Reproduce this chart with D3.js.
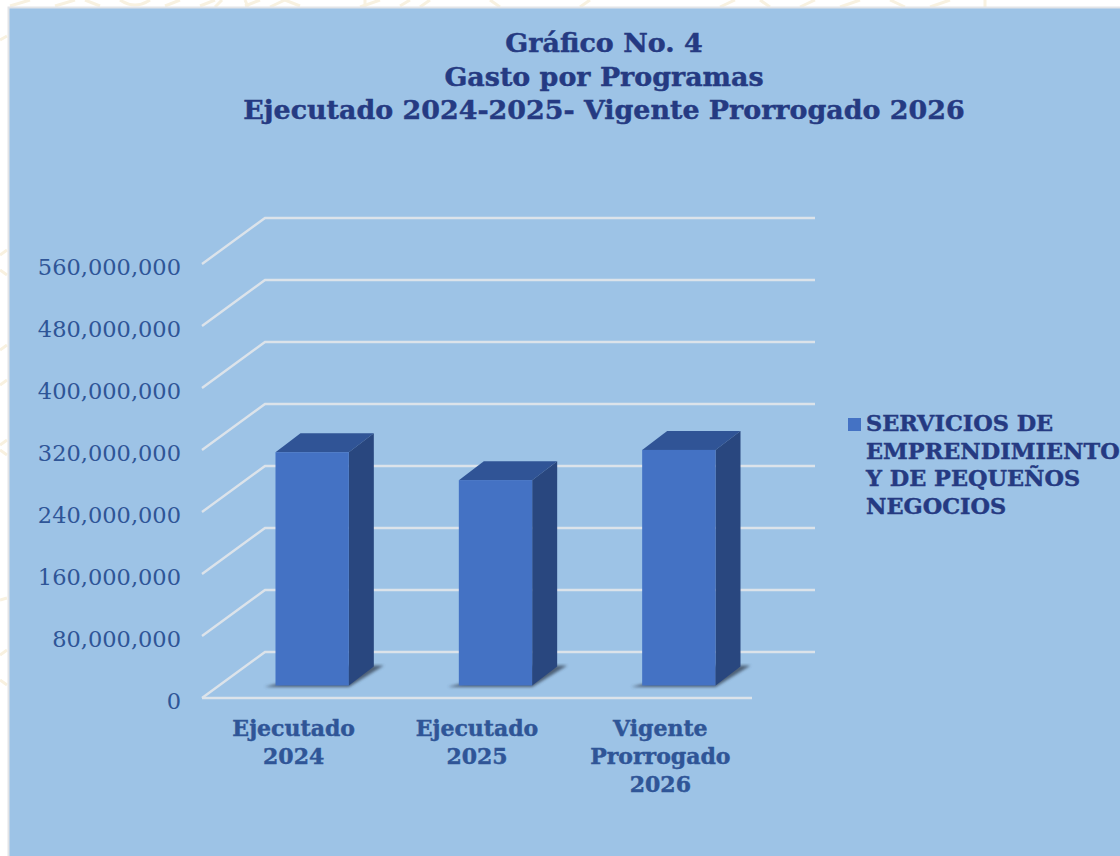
<!DOCTYPE html>
<html>
<head>
<meta charset="utf-8">
<script src="https://cdn.jsdelivr.net/npm/d3@7"></script>
<style>
  html, body { margin: 0; padding: 0; background: #fff; }
  svg { display: block; }
  text { font-family: "DejaVu Serif", "Liberation Serif", serif; }
  .heavy { stroke-width: 0.45px; paint-order: stroke; }
</style>
</head>
<body>
<div id="chart"></div>
<script>
// data
var categories = ["Ejecutado 2024", "Ejecutado 2025", "Vigente Prorrogado 2026"];
var values = [301000000, 265000000, 304000000];
var tickValues = [0, 80000000, 160000000, 240000000, 320000000, 400000000, 480000000, 560000000];
var titleLines = ["Gráfico No. 4", "Gasto por Programas", "Ejecutado 2024-2025- Vigente Prorrogado 2026"];
var categoryLines = [["Ejecutado", "2024"], ["Ejecutado", "2025"], ["Vigente", "Prorrogado", "2026"]];
var legendLines = ["SERVICIOS DE", "EMPRENDIMIENTO", "Y DE PEQUEÑOS", "NEGOCIOS"];

var svgWidth = 1120;
var svgHeight = 856;

var svg = d3.select("#chart")
    .append("svg")
    .attr("width", svgWidth)
    .attr("height", svgHeight);

// faint page watermark showing round the panel
var watermark = svg.append("g")
    .attr("fill", "none")
    .attr("stroke", "#f8f1e0")
    .attr("stroke-width", 3);
watermark.append("path").attr("d", "M10,6L30,0M55,6L75,0M85,0L100,6M120,0Q135,10 150,0M165,6L180,0M215,0L200,6M245,6L260,0M285,0L300,6M360,7L380,0M400,6L410,0");
watermark.append("path").attr("d", "M215,7L222,0M245,0L248,7M285,0L270,7M365,0V7M420,7L430,0M490,0L500,7M580,7L590,0");
watermark.append("path").attr("d", "M0,40L7,36M0,255L7,250M0,270L7,275M0,350L7,345M0,385L7,380M0,445L7,440M0,450L7,455M0,600L7,598M0,655L7,650M0,680L7,685");
watermark.append("path").attr("d", "M720,7L735,0M760,0L770,7M800,7L815,0M840,7L860,0M890,0L905,7M930,7L950,0M985,0V7");

// panel
svg.append("rect")
    .attr("x", 8.5).attr("y", 7.5)
    .attr("width", svgWidth).attr("height", svgHeight)
    .attr("fill", "#9dc3e6")
    .attr("stroke", "#e2e4e7")
    .attr("stroke-width", 2);

// front edge of the floor, the back wall is this plane moved by wallDx, wallDy
var x = d3.scaleBand()
    .domain(categories)
    .range([202, 752])
    .paddingInner(0.6)
    .paddingOuter(0.3);

var y = d3.scaleLinear()
    .domain([0, 560000000])
    .range([698, 264]);

var wallDx = 63, wallDy = -46;
var barDx = 18.5, barDy = -12.5;   // where the bar front sits on the floor
var depthDx = 25, depthDy = -19;   // depth of the bar

// gridlines: diagonal on the left, then along the back wall
var grid = svg.append("g");
grid.selectAll("path")
    .data(tickValues)
    .enter()
    .append("path")
    .attr("d", function(d) {
        var x0 = x.range()[0], x1 = x.range()[1];
        return "M" + x0 + "," + y(d) + "L" + (x0 + wallDx) + "," + (y(d) + wallDy) + "L" + (x1 + wallDx) + "," + (y(d) + wallDy);
    })
    .attr("fill", "none")
    .attr("stroke", "#dce3ea")
    .attr("stroke-width", 2.4);

// floor front edge
grid.append("line")
    .attr("x1", x.range()[0]).attr("x2", x.range()[1])
    .attr("y1", y(0)).attr("y2", y(0))
    .attr("stroke", "#dce3ea")
    .attr("stroke-width", 2.4);

// y labels
svg.append("g").selectAll("text")
    .data(tickValues)
    .enter()
    .append("text")
    .attr("x", 181)
    .attr("y", function(d) { return y(d) + 11; })
    .attr("text-anchor", "end")
    .attr("font-size", 22.5)
    .attr("fill", "#2f5597")
    .text(function(d) { return d3.format(",")(d); });

// blur for the floor shadow
var defs = svg.append("defs");
defs.append("filter").attr("id", "soft")
    .append("feGaussianBlur").attr("stdDeviation", 1.5);

var bars = svg.append("g").selectAll("g")
    .data(values)
    .enter()
    .append("g")
    .attr("transform", function(d, i) { return "translate(" + (x(categories[i]) + barDx) + "," + barDy + ")"; });

var w = x.bandwidth();

// shadow on the floor
bars.append("path")
    .attr("d", "M-11," + (y(0) + 1.5) + "L" + w + "," + (y(0) + 1.5) + "L" + (w + depthDx + 10) + "," + (y(0) + depthDy - 1) + "L" + w + "," + (y(0) + depthDy - 1) + "Z")
    .attr("fill", "#3f5064")
    .attr("opacity", 0.85)
    .attr("filter", "url(#soft)");

// top face
bars.append("path")
    .attr("d", function(d) {
        return "M0," + y(d) + "L" + depthDx + "," + (y(d) + depthDy) + "L" + (w + depthDx) + "," + (y(d) + depthDy) + "L" + w + "," + y(d) + "Z";
    })
    .attr("fill", "#305496");

// side face
bars.append("path")
    .attr("d", function(d) {
        return "M" + w + "," + y(d) + "L" + (w + depthDx) + "," + (y(d) + depthDy) + "L" + (w + depthDx) + "," + (y(0) + depthDy) + "L" + w + "," + y(0) + "Z";
    })
    .attr("fill", "#29477f");

// front face
bars.append("rect")
    .attr("x", 0)
    .attr("y", function(d) { return y(d); })
    .attr("width", w)
    .attr("height", function(d) { return y(0) - y(d); })
    .attr("fill", "#4472c4");

// category labels
var catLabels = svg.append("g").selectAll("text")
    .data(categoryLines)
    .enter()
    .append("text")
    .attr("class", "heavy")
    .attr("text-anchor", "middle")
    .attr("font-size", 22)
    .attr("font-weight", "bold")
    .attr("fill", "#2f5597")
    .attr("stroke", "#2f5597");

catLabels.selectAll("tspan")
    .data(function(d, i) { return d.map(function(s) { return { s: s, cat: categories[i] }; }); })
    .enter()
    .append("tspan")
    .attr("x", function(d) { return x(d.cat) + w / 2; })
    .attr("y", function(d, i) { return 736 + i * 28; })
    .text(function(d) { return d.s; });

// title
svg.append("g").selectAll("text")
    .data(titleLines)
    .enter()
    .append("text")
    .attr("class", "heavy")
    .attr("x", 604)
    .attr("y", function(d, i) { return 52 + i * 33.5; })
    .attr("text-anchor", "middle")
    .attr("font-size", 26.9)
    .attr("font-weight", "bold")
    .attr("fill", "#253a82")
    .attr("stroke", "#253a82")
    .text(function(d) { return d; });

// legend
svg.append("rect")
    .attr("x", 848).attr("y", 418)
    .attr("width", 13).attr("height", 13)
    .attr("fill", "#4472c4");

svg.append("g").selectAll("text")
    .data(legendLines)
    .enter()
    .append("text")
    .attr("class", "heavy")
    .attr("x", 866)
    .attr("y", function(d, i) { return 431 + i * 27.5; })
    .attr("font-size", 22.4)
    .attr("font-weight", "bold")
    .attr("fill", "#253a82")
    .attr("stroke", "#253a82")
    .text(function(d) { return d; });
</script>
</body>
</html>
